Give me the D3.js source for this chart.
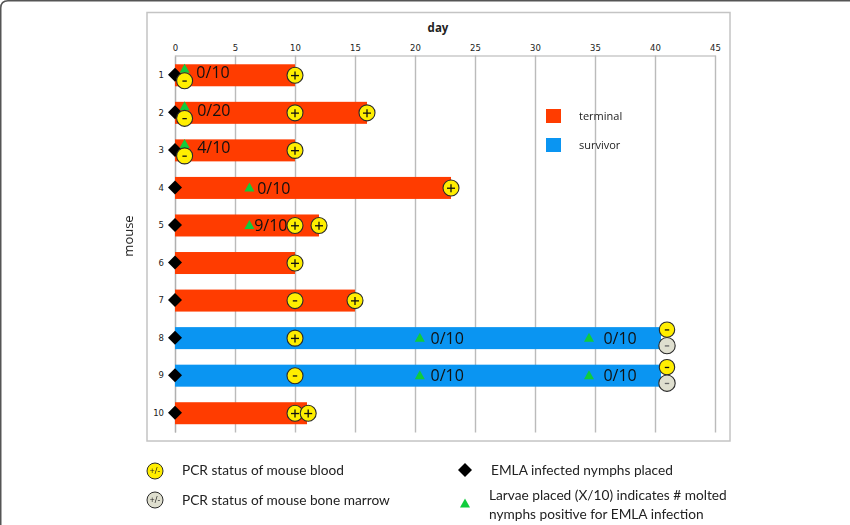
<!DOCTYPE html>
<html><head><meta charset="utf-8">
<script src="https://cdnjs.cloudflare.com/ajax/libs/d3/7.8.5/d3.min.js"></script>
<style>
html,body{margin:0;padding:0;background:#fff}
svg{display:block;filter:blur(0.35px)}
text{font-family:"Open Sans","Noto Sans",sans-serif;fill:#222}
</style></head><body>
<script>
const mice=[1,2,3,4,5,6,7,8,9,10];
const barEnd=[10,16,10,23,12,10,15,40.5,40.5,11];
const outcome=["terminal","terminal","terminal","terminal","terminal","terminal","terminal","survivor","survivor","terminal"];
const xTicks=[0,5,10,15,20,25,30,35,40,45];
const nymphDay=[0,0,0,0,0,0,0,0,0,0];
const bloodMouse=[1,1,2,2,2,3,3,4,5,5,6,7,7,8,8,9,9,10,10];
const bloodDay=[0.8,10,0.8,10,16,0.8,10,23,10,12,10,10,15,10,41,10,41,10,11.1];
const bloodSign=["-","+","-","+","+","-","+","+","+","+","+","-","+","+","-","-","-","+","+"];
const marrowMouse=[8,9];
const marrowDay=[41,41];
const marrowSign=["-","-"];
const larvaeMouse=[1,2,3,4,5,8,8,9,9];
const larvaeDay=[0.8,0.8,0.8,6.2,6.2,20.4,34.5,20.4,34.5];
const larvaeLabel=["0/10","0/20","4/10","0/10","9/10","0/10","0/10","0/10","0/10"];
const labelDay=[1.78,1.85,1.85,6.85,6.6,21.3,35.7,21.3,35.7];
const colors={terminal:"#ff3c00",survivor:"#0a95f2"};
const legendOutcome=["terminal","survivor"];

const W=850,H=525;
const svg=d3.select("body").append("svg").attr("width",W).attr("height",H);
svg.append("path").attr("d","M0.75,525V8Q0.75,0.75 8,0.75H850").attr("fill","none").attr("stroke","#555").attr("stroke-width",1.5);
svg.append("rect").attr("x",147).attr("y",12.5).attr("width",583).attr("height",428.5).attr("fill","#fff").attr("stroke","#c4c4c4").attr("stroke-width",1.5);

const x=d3.scaleLinear().domain([0,45]).range([175,715]);
const y=d3.scaleBand().domain(mice).range([56.5,432]);
const yc=m=>y(m)+y.bandwidth()/2;

// axes
const xAxis=d3.axisTop(x).tickValues(xTicks).tickSize(0).tickPadding(5);
const gx=svg.append("g").attr("transform","translate(0,55.5)").call(xAxis);
gx.select(".domain").attr("stroke","#b0b0b0").attr("stroke-width",1.2);
gx.selectAll("text").style("font-family","'DejaVu Sans'").style("font-size","8.5px").attr("fill","#333");
gx.selectAll(".tick").append("line").attr("y1",0).attr("y2",377).attr("stroke","#bbb").attr("stroke-width",1.4);
const yAxis=d3.axisLeft(y).tickSize(0).tickPadding(11);
const gy=svg.append("g").attr("transform","translate(175,0)").call(yAxis);
gy.select(".domain").attr("stroke","#b0b0b0").attr("stroke-width",1.2);
gy.selectAll("text").style("font-family","'DejaVu Sans'").style("font-size","8.5px").attr("fill","#333");

svg.append("text").attr("x",438).attr("y",32).attr("text-anchor","middle").style("font-size","11.5px").style("font-weight","700").text("day");
svg.append("text").attr("transform","translate(133,236) rotate(-90)").attr("text-anchor","middle").style("font-size","13px").text("mouse");

// bars
svg.append("g").selectAll("rect").data(mice).join("rect")
 .attr("x",x(0)).attr("y",m=>yc(m)-11)
 .attr("width",(m,i)=>x(barEnd[i])-x(0)).attr("height",22)
 .attr("fill",(m,i)=>colors[outcome[i]]);

// diamonds
const diamond=(sel,cx,cy,r)=>sel.append("path").attr("d",`M${cx-r},${cy}L${cx},${cy-r}L${cx+r},${cy}L${cx},${cy+r}Z`).attr("fill","#000");
mice.forEach((m,i)=>diamond(svg,x(nymphDay[i]),yc(m)-0.5,7));

// triangles
const tri=(sel,cx,cy,s)=>sel.append("path").attr("d",`M${cx-s},${cy+s*0.9}L${cx},${cy-s*0.9}L${cx+s},${cy+s*0.9}Z`).attr("fill","#10cc3c");
larvaeMouse.forEach((m,i)=>{
  const early=larvaeDay[i]<1;
  tri(svg,x(larvaeDay[i]),yc(m)+(early?-7:-1),5);
  svg.append("text").attr("x",x(labelDay[i])).attr("y",yc(m)+(early?-3:0)).attr("dy","0.36em")
    .style("font-size","16px").style("fill","#111").text(larvaeLabel[i]);
});

// status circles
function circle(sel,cx,cy,r,fill,sign){
  sel.append("circle").attr("cx",cx).attr("cy",cy).attr("r",r).attr("fill",fill).attr("stroke","#2a2a2a").attr("stroke-width",1.1);
  const s=4;
  const c=fill==="#ffee00"?"#111":"#666";
  sel.append("line").attr("x1",cx-s+(sign==="-"?1.8:0)).attr("x2",cx+s-(sign==="-"?1.8:0)).attr("y1",cy+0.3).attr("y2",cy+0.3).attr("stroke",c).attr("stroke-width",1.3);
  if(sign==="+")sel.append("line").attr("x1",cx).attr("x2",cx).attr("y1",cy-s+0.3).attr("y2",cy+s+0.3).attr("stroke",c).attr("stroke-width",1.3);
}
bloodMouse.forEach((m,i)=>{
  const d=bloodDay[i];
  const dy=d<1?5.5:(d>40?-8.5:0);
  circle(svg,x(d),yc(m)+dy,d>40?7.7:8,"#ffee00",bloodSign[i]);
});
marrowMouse.forEach((m,i)=>circle(svg,x(marrowDay[i]),yc(m)+7.5,8.2,"#dfdfcf",marrowSign[i]));

// legend: outcome
const ly=d3.scalePoint().domain(legendOutcome).range([116,145]);
legendOutcome.forEach(k=>{
  svg.append("rect").attr("x",546).attr("y",ly(k)-7).attr("width",15).attr("height",14).attr("fill",colors[k]);
  svg.append("text").attr("x",579).attr("y",ly(k)).attr("dy","0.36em").style("font-size","11px").text(k);
});

// legend: bottom
function legCircle(cy,fill){
  svg.append("circle").attr("cx",155).attr("cy",cy).attr("r",8).attr("fill",fill).attr("stroke","#2a2a2a").attr("stroke-width",1);
  svg.append("text").attr("x",155).attr("y",cy).attr("dy","0.36em").attr("text-anchor","middle").style("font-size","8.5px").text("+/-");
}
const legStyle=s=>s.style("font-family","Lato").style("font-size","13.7px");
legCircle(471,"#ffee00");
legCircle(500,"#dfdfcf");
svg.append("text").attr("x",182).attr("y",470.5).attr("dy","0.36em").call(legStyle).text("PCR status of mouse blood");
svg.append("text").attr("x",182).attr("y",500.5).attr("dy","0.36em").call(legStyle).text("PCR status of mouse bone marrow");
diamond(svg,465,470,7);
svg.append("text").attr("x",491).attr("y",470.5).attr("dy","0.36em").call(legStyle).text("EMLA infected nymphs placed");
tri(svg,465,503,5);
svg.append("text").attr("x",489).attr("y",495).attr("dy","0.36em").call(legStyle).text("Larvae placed (X/10) indicates # molted");
svg.append("text").attr("x",489).attr("y",514.5).attr("dy","0.36em").call(legStyle).text("nymphs positive for EMLA infection");
</script>
</body></html>
